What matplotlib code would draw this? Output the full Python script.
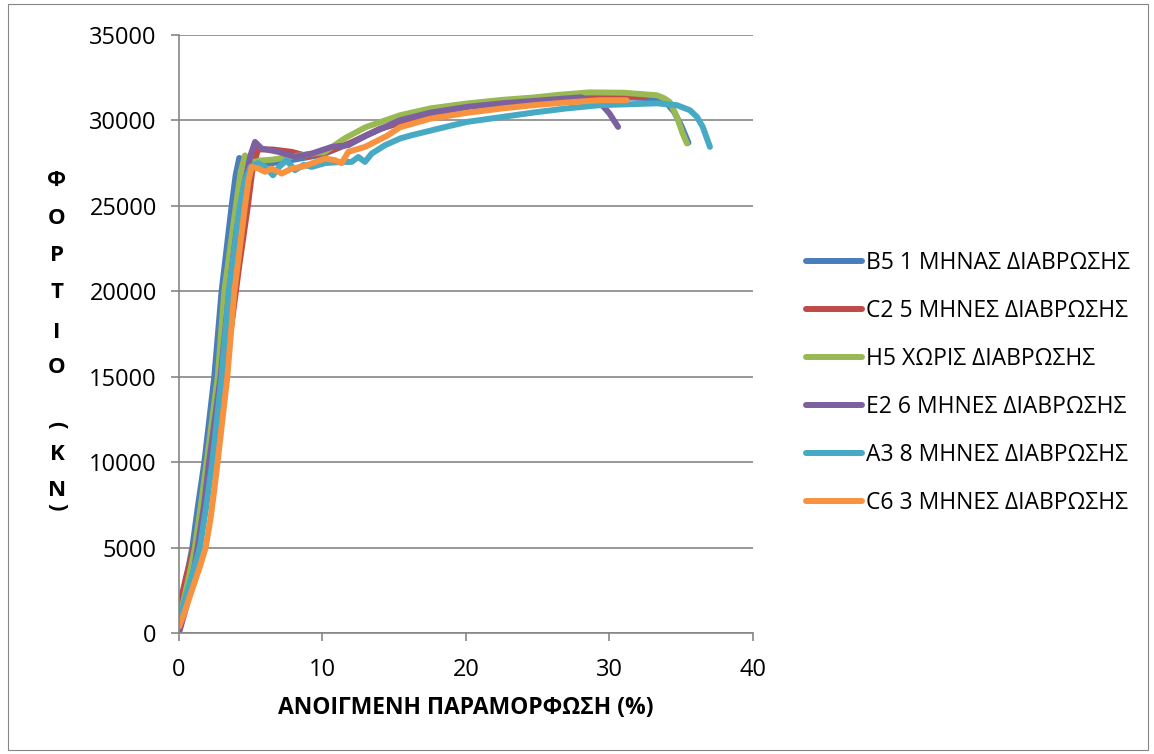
import matplotlib
matplotlib.use("Agg")
import matplotlib.pyplot as plt
from matplotlib.patches import Rectangle

plt.rcParams['font.family'] = ['Open Sans', 'DejaVu Sans']

# strain (%) and load values
b5_x = [0, 0.15, 0.4, 0.65, 0.93, 1.3, 1.77, 2.46, 2.97, 3.67, 3.95, 4.2, 4.5, 5.2, 6.5, 8, 10, 12, 14, 17, 20, 24, 28, 31, 33, 33.9, 34.5, 35.0, 35.5]
b5_y = [800, 1500, 2600, 3800, 5000, 7300, 10000, 15000, 20000, 25000, 26800, 27800, 27700, 27400, 27500, 27700, 28000, 28700, 29500, 30300, 30800, 31200, 31350, 31350, 31300, 31100, 30500, 29700, 28700]

c2_x = [0, 0.2, 0.5, 1.2, 2.0, 2.8, 3.5, 4.2, 4.8, 5.1, 5.5, 6.5, 7.85, 9, 10.5, 12, 14, 17, 20, 24, 28, 31, 32.5]
c2_y = [1200, 2200, 3300, 5500, 9000, 13000, 17000, 21500, 25000, 27000, 28300, 28300, 28160, 27900, 28200, 28700, 29500, 30300, 30800, 31200, 31400, 31450, 31400]

h5_x = [0, 0.15, 0.4, 0.75, 1.11, 1.5, 1.93, 2.7, 3.16, 3.97, 4.3, 4.6, 4.9, 5.6, 6.5, 8, 10.17, 11.57, 13, 15.4, 17.5, 20.05, 22.5, 24.7, 26.5, 28.6, 31, 33.3, 33.8, 34.2, 34.7, 35.1, 35.4]
h5_y = [600, 1200, 2200, 3500, 5000, 7300, 10000, 15000, 20000, 25000, 27000, 27950, 27500, 27650, 27700, 27900, 28160, 28960, 29600, 30300, 30700, 30990, 31200, 31340, 31500, 31640, 31620, 31470, 31300, 31080, 30200, 29230, 28650]

e2_x = [0, 0.2, 0.5, 0.9, 1.3, 1.75, 2.1, 2.9, 3.5, 4.0, 4.6, 5.0, 5.3, 5.76, 6.92, 8.08, 9.25, 10.64, 11.8, 13, 15.4, 17.5, 20.05, 22.5, 24.7, 28.0, 29.3, 29.6, 30.0, 30.6]
e2_y = [0, 600, 1500, 3000, 5000, 7500, 10000, 15000, 20000, 23500, 26500, 28000, 28740, 28350, 28160, 27870, 28060, 28450, 28550, 29100, 30010, 30450, 30790, 31000, 31140, 31350, 31000, 30790, 30400, 29620]

a3_x = [0, 0.2, 0.5, 0.95, 1.46, 1.9, 2.32, 2.97, 3.48, 4.25, 4.6, 5.0, 5.5, 6.0, 6.55, 7.0, 7.5, 8.08, 8.7, 9.25, 10.17, 11.34, 12.03, 12.5, 12.96, 13.43, 14.36, 15.4, 16.2, 18, 20.05, 22.5, 24.7, 27, 29.3, 33.3, 34.7, 35.6, 36.1, 36.5, 37.0]
a3_y = [760, 1300, 2200, 3500, 5000, 7400, 10000, 15000, 20000, 25000, 26500, 27300, 27500, 27280, 26790, 27300, 27670, 27090, 27400, 27280, 27500, 27570, 27570, 27860, 27570, 28060, 28550, 28940, 29130, 29500, 29910, 30200, 30460, 30700, 30890, 31000, 30890, 30600, 30200, 29620, 28450]

c6_x = [0, 0.3, 0.7, 1.1, 1.5, 1.86, 2.2, 2.45, 2.69, 3.37, 3.86, 4.6, 4.85, 5.07, 5.5, 6.0, 6.46, 7.16, 7.85, 8.55, 9.25, 10.17, 10.87, 11.34, 11.8, 12.96, 14.5, 15.4, 17.5, 20.05, 22.5, 24.7, 27, 29.3, 31.2]
c6_y = [370, 1000, 2000, 3000, 4000, 5000, 6700, 8300, 10000, 15000, 20000, 25000, 26500, 27280, 27200, 26990, 27180, 26890, 27180, 27280, 27480, 27770, 27670, 27500, 28160, 28450, 29100, 29600, 30100, 30440, 30700, 30890, 31050, 31180, 31180]

series = [
    ("B5 1 ΜΗΝΑΣ ΔΙΑΒΡΩΣΗΣ", b5_x, b5_y, "#4a7ebb"),
    ("C2 5 ΜΗΝΕΣ ΔΙΑΒΡΩΣΗΣ", c2_x, c2_y, "#be4b48"),
    ("H5 ΧΩΡΙΣ ΔΙΑΒΡΩΣΗΣ", h5_x, h5_y, "#98b954"),
    ("E2 6 ΜΗΝΕΣ ΔΙΑΒΡΩΣΗΣ", e2_x, e2_y, "#7d60a0"),
    ("A3 8 ΜΗΝΕΣ ΔΙΑΒΡΩΣΗΣ", a3_x, a3_y, "#46aac5"),
    ("C6 3 ΜΗΝΕΣ ΔΙΑΒΡΩΣΗΣ", c6_x, c6_y, "#f69240"),
]

fig = plt.figure(figsize=(11.54, 7.54), dpi=100)
fig.patches.append(Rectangle((0.007, 0.005), 0.988, 0.99, transform=fig.transFigure,
                             fill=False, edgecolor="#868686", linewidth=0.8))
ax = fig.add_axes([0.1551, 0.1605, 0.4974, 0.7931])

for name, xs, ys, col in series:
    ax.plot(xs, ys, color=col, linewidth=4.3, label=name,
            solid_capstyle='round', solid_joinstyle='round')

ax.set_xlim(0, 40)
ax.set_ylim(0, 35000)
ax.set_xticks([0, 10, 20, 30, 40])
ax.set_yticks(range(0, 35001, 5000))
ax.yaxis.grid(True, color="#868686", linewidth=1.2)
ax.set_axisbelow(True)
for s in ['top', 'right']:
    ax.spines[s].set_visible(False)
for s in ['left', 'bottom']:
    ax.spines[s].set_color("#868686")
    ax.spines[s].set_linewidth(1.2)
ax.tick_params(axis='both', direction='out', length=6, width=1.2, color="#868686",
               labelsize=17, pad=12)
ax.tick_params(axis='y', pad=10)

ax.set_xlabel("ΑΝΟΙΓΜΕΝΗ ΠΑΡΑΜΟΡΦΩΣΗ (%)", fontsize=16.5, fontweight='bold', labelpad=10)

# stacked vertical y title
ylab = ["Φ", "Ο", "Ρ", "Τ", "Ι", "Ο", "(", "Κ", "Ν", ")"]
ylab_y = [180, 218, 256, 293, 332, 368, 425, 455, 490, 507]
for ch, py in zip(ylab, ylab_y):
    rot = 270 if ch in "()" else 0
    fig.text(57 / 1154, 1 - py / 754, ch, fontsize=16, fontweight='bold',
             ha='center', va='center', rotation=rot)

leg = fig.legend(loc='upper left', bbox_to_anchor=(0.6984, 0.6674), frameon=False,
                 fontsize=16.5, handlelength=2.45, labelspacing=1.05, handletextpad=0.17,
                 borderpad=0, borderaxespad=0)
for line in leg.get_lines():
    line.set_linewidth(4.3)
    line.set_solid_capstyle('round')

fig.savefig("out.png", dpi=100)
